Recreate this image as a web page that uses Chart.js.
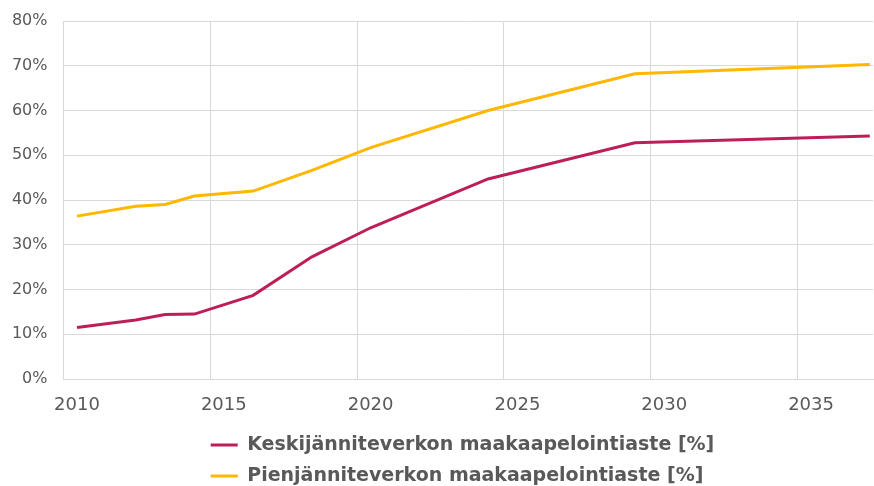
<!DOCTYPE html>
<html>
<head>
<meta charset="utf-8">
<script src="https://cdn.jsdelivr.net/npm/chart.js@4.4.0/dist/chart.umd.min.js"></script>
<style>
  html, body { margin: 0; padding: 0; background: #fff; }
  #wrap { width: 874px; height: 486px; }
</style>
</head>
<body>
<div id="wrap"><canvas id="cablingChart"></canvas></div>
<script>
// maakaapelointiaste, luettu kuvasta (%)
var years = [2010, 2012, 2013, 2014, 2016, 2018, 2020, 2024, 2029, 2037];
var keskiValues = [11.5, 13.2, 14.4, 14.5, 18.7, 27.3, 33.8, 44.7, 52.8, 54.3];
var pienValues = [36.4, 38.6, 39.0, 40.9, 42.0, 46.6, 51.7, 60.0, 68.2, 70.3];
var seriesLabels = ['Keskijänniteverkon maakaapelointiaste [%]', 'Pienjänniteverkon maakaapelointiaste [%]'];
var xTickYears = [2010, 2015, 2020, 2025, 2030, 2035];
var yTickValues = [0, 10, 20, 30, 40, 50, 60, 70, 80];

var gridShift = 0.46; // Excel: gridlines sit between categories

function toPoints(values) {
    return years.map(function (y, i) { return { x: y, y: values[i] }; });
}

// keep both legend rows starting at the same x, nudged right like in Excel
var alignLegendRows = {
    id: 'alignLegendRows',
    afterLayout: function (chart) {
        var legend = chart.legend;
        if (!legend || !legend.lineWidths) return;
        var widest = Math.max.apply(null, legend.lineWidths);
        legend.lineWidths = legend.lineWidths.map(function () { return widest; });
        legend.left += 20;
        legend.right += 20;
    }
};

document.addEventListener('DOMContentLoaded', function () {
    var ctx = document.getElementById('cablingChart').getContext('2d');
    var textColor = '#595959';
    var gridColor = '#d9d9d9';

    new Chart(ctx, {
        type: 'line',
        data: {
            datasets: [
                {
                    label: seriesLabels[0],
                    data: toPoints(keskiValues),
                    borderColor: '#be1e57',
                    backgroundColor: '#be1e57',
                    borderWidth: 3,
                    pointRadius: 0,
                    tension: 0
                },
                {
                    label: seriesLabels[1],
                    data: toPoints(pienValues),
                    borderColor: '#ffb700',
                    backgroundColor: '#ffb700',
                    borderWidth: 3,
                    pointRadius: 0,
                    tension: 0
                }
            ]
        },
        options: {
            responsive: true,
            maintainAspectRatio: false,
            animation: false,
            layout: {
                padding: { left: 12, right: 1, top: 21, bottom: -9.5 }
            },
            scales: {
                x: {
                    type: 'linear',
                    min: 2010 - gridShift,
                    max: 2037.11,
                    afterBuildTicks: function (scale) {
                        scale.ticks = xTickYears.map(function (y) { return { value: y - gridShift }; });
                    },
                    afterFit: function (scale) {
                        scale.height = 44.5;
                        scale.paddingLeft = 0;
                        scale.paddingRight = 0;
                    },
                    ticks: {
                        color: textColor,
                        font: { family: 'DejaVu Sans', size: 18 },
                        padding: 16,
                        labelOffset: 13.5,
                        maxRotation: 0,
                        callback: function (value) {
                            return Math.round(value + gridShift);
                        }
                    },
                    grid: { color: gridColor, lineWidth: 1, drawTicks: false },
                    border: { color: gridColor }
                },
                y: {
                    min: 0,
                    max: 80,
                    afterBuildTicks: function (scale) {
                        scale.ticks = yTickValues.map(function (v) { return { value: v }; });
                    },
                    afterFit: function (scale) {
                        scale.width = 51.5;
                        scale.paddingTop = 10;
                        scale.paddingBottom = 10;
                    },
                    ticks: {
                        color: textColor,
                        font: { family: 'DejaVu Sans', size: 16 },
                        padding: 16,
                        callback: function (value) {
                            return value + '%';
                        }
                    },
                    grid: { color: gridColor, lineWidth: 1, drawTicks: false },
                    border: { display: false }
                }
            },
            plugins: {
                legend: {
                    position: 'bottom',
                    labels: {
                        color: textColor,
                        font: { family: 'DejaVu Sans', size: 19, weight: 'bold' },
                        usePointStyle: true,
                        pointStyle: 'line',
                        pointStyleWidth: 27,
                        padding: 12
                    }
                },
                tooltip: { enabled: false }
            }
        },
        plugins: [alignLegendRows]
    });
});
</script>
</body>
</html>
